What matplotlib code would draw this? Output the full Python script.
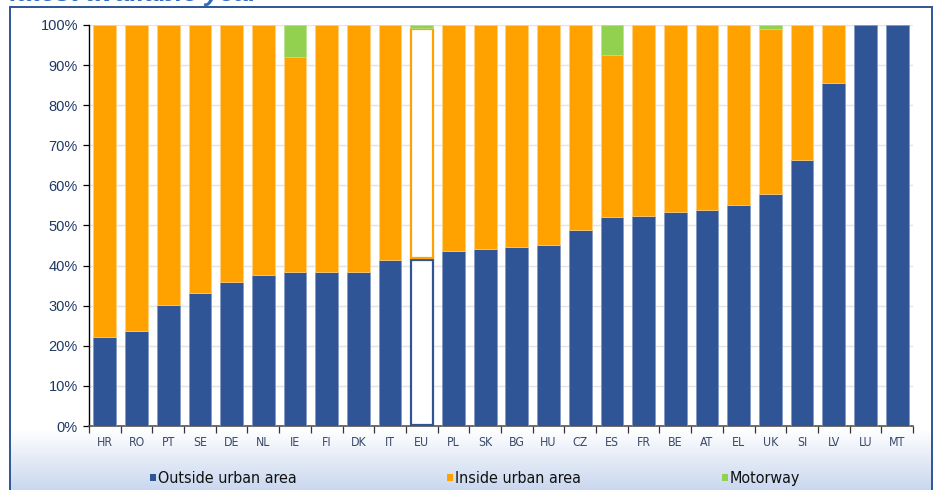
import numpy as np
import matplotlib
matplotlib.use("Agg")
import matplotlib.pyplot as plt
from matplotlib.patches import Rectangle

countries = ["HR", "RO", "PT", "SE", "DE", "NL", "IE", "FI", "DK", "IT", "EU",
             "PL", "SK", "BG", "HU", "CZ", "ES", "FR", "BE", "AT", "EL", "UK",
             "SI", "LV", "LU", "MT"]
outside_urban = [22.2, 23.7, 30.1, 33.2, 35.9, 37.7, 38.4, 38.4, 38.4, 41.4, 41.6,
                 43.7, 44.1, 44.7, 45.1, 48.9, 52.0, 52.4, 53.4, 53.9, 55.2, 57.8,
                 66.3, 85.5, 100.0, 100.0]
motorway = [0, 0, 0, 0, 0, 0, 7.9, 0, 0, 0, 0.7,
            0, 0, 0, 0, 0, 7.6, 0, 0, 0, 0, 1.1,
            0, 0, 0, 0]
inside_urban = [100 - o - m for o, m in zip(outside_urban, motorway)]
highlight = "EU"

series_names = ["Outside urban area", "Inside urban area", "Motorway"]
colors = ["#2F5597", "#FFA200", "#92D050"]
edge_light = ["#8197c4", "#ffd080", "#b8e08c"]
yticks = list(range(0, 101, 10))

W, H = 936, 490
fig = plt.figure(figsize=(W / 100, H / 100), dpi=100)
fig.patch.set_facecolor("white")

# light blue gradient band behind the legend
grad = np.linspace(0, 1, 256).reshape(-1, 1)
bg = fig.add_axes([10 / W, 0, 922 / W, 60 / H], zorder=0)
cmap = matplotlib.colors.LinearSegmentedColormap.from_list("band", ["#c9d7ef", "#ffffff"])
bg.imshow(grad, aspect="auto", cmap=cmap, origin="lower", extent=[0, 1, 0, 1])
bg.set_axis_off()

# blue frame
frame = Rectangle((10 / W, -0.05), 922 / W, (H - 7) / H + 0.05, transform=fig.transFigure,
                  fill=False, edgecolor="#2F5597", linewidth=1.4, zorder=1)
fig.patches.append(frame)

ax = fig.add_axes([89 / W, 1 - 426 / H, (913 - 89) / W, (426 - 25) / H], zorder=2)
ax.set_facecolor("none")

x = np.arange(len(countries))
width = 0.72
bottoms = np.zeros(len(countries))
for vals, c, ec in zip([outside_urban, inside_urban, motorway], colors, edge_light):
    vals = np.array(vals, dtype=float)
    for i, (xi, v, b) in enumerate(zip(x, vals, bottoms)):
        if v <= 0:
            continue
        if countries[i] == highlight and c != colors[2]:
            # EU average drawn as an outlined bar
            ax.bar(xi, v - 0.6, width * 0.97, bottom=b + 0.3, color="white",
                   edgecolor=c, linewidth=1.6, zorder=3)
        else:
            ax.bar(xi, v, width, bottom=b, color=c, edgecolor=ec, linewidth=0.5, zorder=3)
    bottoms += vals

ax.set_xlim(-0.5, len(countries) - 0.5)
ax.set_ylim(0, 100)
ax.set_yticks(yticks)
ax.set_yticklabels([f"{t}%" for t in yticks], fontsize=10.5, color="#1F3864",
                   family="Liberation Sans")
ax.yaxis.grid(True, color="#e4e4e4", linewidth=1.0, zorder=0)
ax.set_axisbelow(True)

ax.set_xticks(x)
ax.set_xticklabels(countries, fontsize=8.8, color="#3b4a6b", family="DejaVu Sans",
                   fontstretch="condensed")
ax.tick_params(axis="x", length=0, pad=7)
ax.set_xticks(np.arange(-0.5, len(countries), 1.0), minor=True)
ax.tick_params(axis="x", which="minor", length=5, width=0.9, color="#333333", direction="out")
ax.tick_params(axis="y", length=4, width=0.9, color="black", direction="out", pad=4)

for s in ["top", "right"]:
    ax.spines[s].set_visible(False)
ax.spines["left"].set_color("black")
ax.spines["left"].set_linewidth(1.0)
ax.spines["bottom"].set_color("#555555")
ax.spines["bottom"].set_linewidth(1.2)

# legend along the bottom band
legend_x = [150, 447, 722]
for name, c, lx in zip(series_names, colors, legend_x):
    fig.patches.append(Rectangle((lx / W, 1 - 481 / H), 6 / W, 7 / H, transform=fig.transFigure,
                                 facecolor=c, edgecolor="none", zorder=5))
    fig.text((lx + 8) / W, 1 - 478 / H, name, fontsize=11.5, color="#111111",
             family="DejaVu Sans", fontstretch="condensed", va="center", ha="left", zorder=5)

# heading running off the top edge
fig.text(10 / W, 1 - 1 / H, "latest available year", fontsize=19, fontweight="bold",
         fontstyle="italic", color="#2F6DC0", va="baseline", ha="left",
         family="Liberation Sans")

fig.savefig("out.png", dpi=100)
